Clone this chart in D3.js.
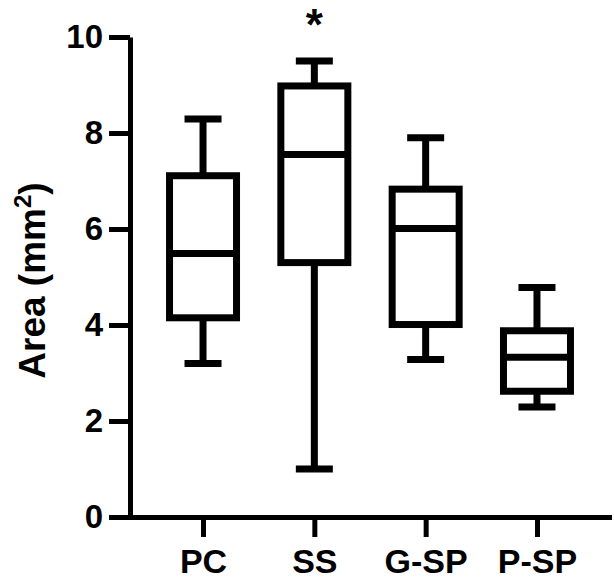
<!DOCTYPE html>
<html>
<head>
<meta charset="utf-8">
<script src="https://cdn.jsdelivr.net/npm/d3@7"></script>
<style>
  body { margin: 0; background: #fff; }
  svg { display: block; }
  text { font-family: "Liberation Sans", Arial, sans-serif; font-weight: bold; fill: #000; }
</style>
</head>
<body>
<div id="chart"></div>
<script>
// data
const groups = ['PC', 'SS', 'G-SP', 'P-SP'];
const mins = [3.2, 1.0, 3.28, 2.29];
const q1s = [4.15, 5.3, 4.01, 2.62];
const medians = [5.49, 7.55, 6.01, 3.33];
const q3s = [7.11, 8.98, 6.83, 3.88];
const maxs = [8.29, 9.5, 7.9, 4.78];
const yTicks = [0, 2, 4, 6, 8, 10];
const marks = ['', '*', '', ''];

const width = 614, height = 579;
const margin = { top: 37, right: 2, bottom: 62, left: 130 };

const svg = d3.select('#chart').append('svg')
    .attr('width', width)
    .attr('height', height);

const x = d3.scalePoint()
    .domain(groups)
    .range([margin.left, 610])
    .padding(0.656);

const y = d3.scaleLinear()
    .domain([0, 10])
    .range([height - margin.bottom, margin.top]);

const boxW = 67, capW = 37, lw = 7;

// y axis
const yAxis = svg.append('g')
    .attr('transform', `translate(${margin.left},0)`)
    .call(d3.axisLeft(y).tickValues(yTicks).tickSize(21).tickSizeOuter(0).tickPadding(6));
yAxis.select('.domain').attr('stroke', '#000').attr('stroke-width', 5);
yAxis.selectAll('.tick line').attr('stroke', '#000').attr('stroke-width', 5);
yAxis.selectAll('.tick text')
    .attr('font-size', 33)
    .attr('font-family', '"Liberation Sans", Arial, sans-serif')
    .attr('font-weight', 'bold');

// x axis
const xAxis = svg.append('g')
    .attr('transform', `translate(0,${y(0)})`)
    .call(d3.axisBottom(x).tickSize(20).tickSizeOuter(0).tickPadding(12));
xAxis.select('.domain').attr('stroke', '#000').attr('stroke-width', 5)
    .attr('d', `M${margin.left - 2},0.5H${width - 2}`);
xAxis.selectAll('.tick line').attr('stroke', '#000').attr('stroke-width', 5);
xAxis.selectAll('.tick text')
    .attr('font-size', 34)
    .attr('font-family', '"Liberation Sans", Arial, sans-serif')
    .attr('font-weight', 'bold');

// y axis title
svg.append('text')
    .attr('transform', `translate(45,${(178 + 383) / 2}) rotate(-90)`)
    .attr('text-anchor', 'middle')
    .attr('font-size', 37)
    .text('Area (mm')
    .append('tspan').attr('font-size', 24).attr('dy', -14).text('2')
    .select(function () { return this.parentNode; })
    .append('tspan').attr('dy', 14).text(')');

// boxes
const boxes = svg.append('g')
    .attr('fill', 'none')
    .attr('stroke', '#000')
    .attr('stroke-width', lw)
    .selectAll('g')
    .data(groups)
    .join('g');

boxes.append('line') // upper whisker
    .attr('x1', d => x(d)).attr('x2', d => x(d))
    .attr('y1', (d, i) => y(maxs[i])).attr('y2', (d, i) => y(q3s[i]));
boxes.append('line') // lower whisker
    .attr('x1', d => x(d)).attr('x2', d => x(d))
    .attr('y1', (d, i) => y(q1s[i])).attr('y2', (d, i) => y(mins[i]));
boxes.append('line') // top cap
    .attr('x1', d => x(d) - capW / 2).attr('x2', d => x(d) + capW / 2)
    .attr('y1', (d, i) => y(maxs[i])).attr('y2', (d, i) => y(maxs[i]));
boxes.append('line') // bottom cap
    .attr('x1', d => x(d) - capW / 2).attr('x2', d => x(d) + capW / 2)
    .attr('y1', (d, i) => y(mins[i])).attr('y2', (d, i) => y(mins[i]));
boxes.append('rect')
    .attr('x', d => x(d) - boxW / 2)
    .attr('width', boxW)
    .attr('y', (d, i) => y(q3s[i]))
    .attr('height', (d, i) => y(q1s[i]) - y(q3s[i]))
    .attr('fill', '#fff');
boxes.append('line') // median
    .attr('x1', d => x(d) - boxW / 2).attr('x2', d => x(d) + boxW / 2)
    .attr('y1', (d, i) => y(medians[i])).attr('y2', (d, i) => y(medians[i]));

// significance marks
svg.append('g').selectAll('text')
    .data(groups)
    .join('text')
    .attr('x', d => x(d))
    .attr('y', 40)
    .attr('text-anchor', 'middle')
    .attr('font-size', 44)
    .text((d, i) => marks[i]);
</script>
</body>
</html>
